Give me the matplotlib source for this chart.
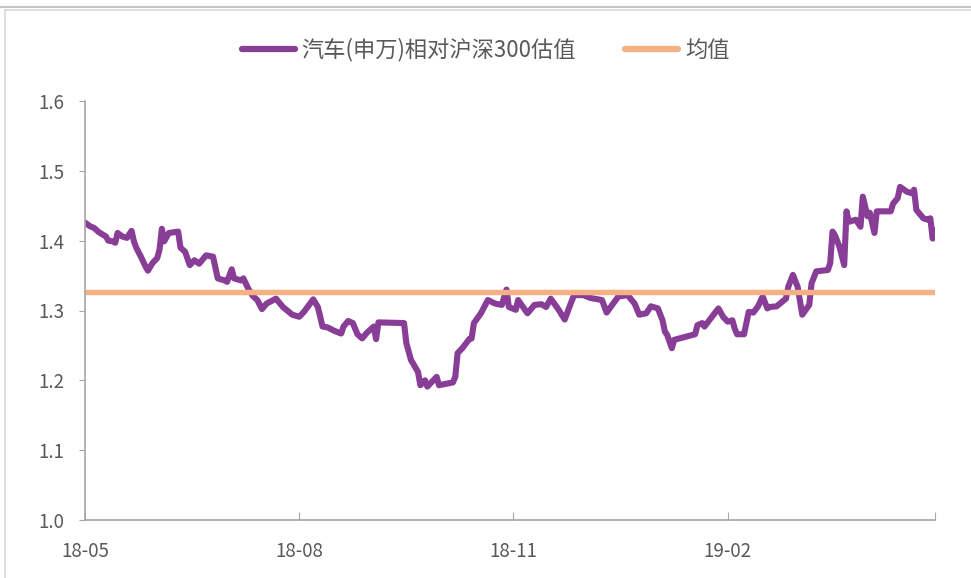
import matplotlib
matplotlib.use("Agg")
import matplotlib.pyplot as plt
from matplotlib.lines import Line2D
import pandas as pd

plt.rcParams['font.family'] = ['Noto Sans CJK SC', 'DejaVu Sans']

# days after 2018-05-01 and valuation ratio (auto vs CSI300)
day_offset = [0, 2, 4, 6, 9, 10, 12, 13, 14, 16, 18, 20, 21, 22, 24, 26, 27, 29, 31, 32,
              33, 34, 36, 40, 41, 43, 45, 47, 49, 52, 55, 57, 60, 61, 63, 64, 67, 68, 70, 72,
              74, 76, 78, 82, 85, 89, 92, 94, 98, 100, 102, 104, 107, 110, 111, 113, 115, 117, 119, 121,
              124, 125, 126, 137, 138, 140, 143, 144, 146, 147, 149, 151, 152, 155, 158, 159, 160, 162, 165, 166,
              167, 170, 173, 176, 179, 181, 182, 185, 186, 190, 193, 196, 198, 200, 203, 206, 208, 210, 214, 217,
              222, 224, 229, 233, 236, 238, 241, 243, 246, 248, 249, 250, 252, 253, 262, 263, 265, 266, 272, 274,
              276, 278, 279, 280, 283, 285, 287, 289, 291, 293, 294, 297, 301, 302, 304, 306, 308, 311, 312, 314,
              319, 320, 321, 322, 324, 326, 327, 328, 331, 333, 334, 336, 337, 339, 340, 346, 347, 349, 350, 353,
              355, 356, 357, 360, 362, 363, 364, 365]
ratio = [1.426, 1.421, 1.418, 1.412, 1.406, 1.400, 1.399, 1.397, 1.411, 1.406, 1.404, 1.414, 1.399, 1.390, 1.377, 1.363, 1.357, 1.368, 1.375, 1.387,
         1.417, 1.399, 1.411, 1.413, 1.390, 1.384, 1.365, 1.372, 1.367, 1.379, 1.377, 1.346, 1.343, 1.341, 1.359, 1.346, 1.343, 1.346, 1.332, 1.321,
         1.315, 1.302, 1.310, 1.317, 1.305, 1.294, 1.291, 1.298, 1.316, 1.305, 1.277, 1.276, 1.271, 1.267, 1.277, 1.285, 1.282, 1.266, 1.260, 1.268,
         1.277, 1.259, 1.283, 1.282, 1.253, 1.229, 1.212, 1.193, 1.200, 1.191, 1.198, 1.205, 1.193, 1.195, 1.197, 1.205, 1.239, 1.246, 1.259, 1.260,
         1.282, 1.296, 1.315, 1.310, 1.308, 1.330, 1.305, 1.301, 1.315, 1.296, 1.308, 1.309, 1.305, 1.317, 1.303, 1.287, 1.305, 1.322, 1.322, 1.318,
         1.315, 1.297, 1.320, 1.322, 1.310, 1.294, 1.296, 1.306, 1.303, 1.286, 1.270, 1.265, 1.246, 1.258, 1.266, 1.279, 1.282, 1.277, 1.303, 1.291,
         1.284, 1.286, 1.274, 1.266, 1.266, 1.298, 1.297, 1.306, 1.320, 1.303, 1.305, 1.306, 1.317, 1.334, 1.351, 1.334, 1.294, 1.308, 1.339, 1.356,
         1.358, 1.368, 1.413, 1.408, 1.391, 1.365, 1.442, 1.427, 1.430, 1.420, 1.463, 1.435, 1.440, 1.411, 1.442, 1.442, 1.453, 1.461, 1.477, 1.470,
         1.468, 1.473, 1.444, 1.432, 1.430, 1.432, 1.403, 1.415]
mean_value = 1.326

tick_dates = ['2018-05-01', '2018-08-01', '2018-11-01', '2019-02-01', '2019-05-01']
tick_labels = ['18-05', '18-08', '18-11', '19-02', '']

start = pd.Timestamp('2018-05-01')
dates = [start + pd.Timedelta(days=d) for d in day_offset]

purple = '#883E97'
orange = '#F5B183'
grey = '#595959'

fig = plt.figure(figsize=(9.71, 5.78), dpi=100)
ax = fig.add_axes([85 / 971, 1 - 520 / 578, 850 / 971, 419 / 578])

ax.plot(dates, ratio, color=purple, lw=4.4, solid_joinstyle='round', solid_capstyle='round')
ax.plot([dates[0], dates[-1]], [mean_value, mean_value], color=orange, lw=3.9, solid_capstyle='round')

ax.set_xlim(pd.Timestamp(tick_dates[0]), pd.Timestamp(tick_dates[-1]))
ax.set_ylim(1.0, 1.6)
ax.set_yticks([1.0, 1.1, 1.2, 1.3, 1.4, 1.5, 1.6])
ax.set_yticklabels(['1.0', '1.1', '1.2', '1.3', '1.4', '1.5', '1.6'])
ax.set_xticks([pd.Timestamp(t) for t in tick_dates])
ax.set_xticklabels(tick_labels)

for s in ['top', 'right']:
    ax.spines[s].set_visible(False)
for s in ['left', 'bottom']:
    ax.spines[s].set_color('#A6A6A6')
    ax.spines[s].set_linewidth(1.2)
ax.tick_params(axis='y', direction='out', length=4, color='#A6A6A6', labelsize=13.5, labelcolor=grey, pad=11)
ax.tick_params(axis='x', direction='in', length=6, color='#A6A6A6', labelsize=13.5, labelcolor=grey, pad=15)

handles = [Line2D([], [], color=purple, lw=4.5, solid_capstyle='round'),
           Line2D([], [], color=orange, lw=4.5, solid_capstyle='round')]
fig.legend(handles, ['汽车(申万)相对沪深300估值', '均值'], loc='center', bbox_to_anchor=(0.5, 1 - 50 / 578),
           ncol=2, frameon=False, fontsize=16, handlelength=2.4, handletextpad=0.3, columnspacing=2.2,
           labelcolor=grey)

# chart frame
fig.add_artist(plt.Rectangle((5 / 971, -0.01), 1.0, 1 - 10 / 578 + 0.01, transform=fig.transFigure,
                             fill=False, edgecolor='#D9D9D9', lw=1.2))
fig.add_artist(Line2D([0, 1], [1 - 7 / 578, 1 - 7 / 578], transform=fig.transFigure, color='#C9C3CA', lw=1.5))

fig.savefig('out.png', dpi=100)
